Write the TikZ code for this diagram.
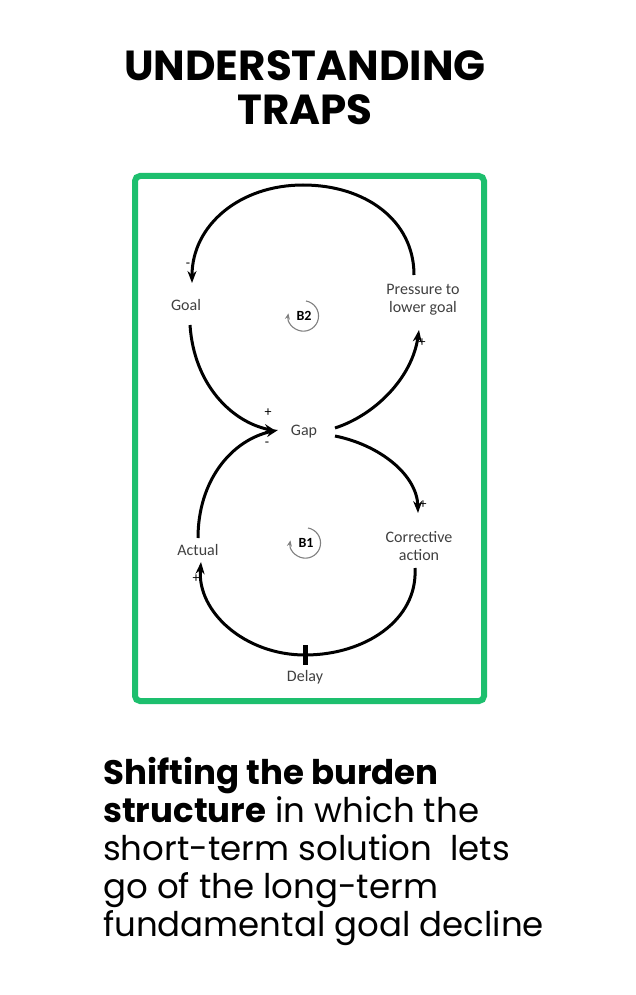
\documentclass[tikz,border=0pt]{standalone}
\usepackage{fontspec}
\setmainfont{Poppins}
\newfontfamily\diag{Carlito}
\usetikzlibrary{arrows.meta}
\definecolor{grn}{HTML}{1DBF6E}
\definecolor{txt}{HTML}{404040}
\begin{document}
\begin{tikzpicture}[x=1pt,y=-1pt,
  link/.style={line width=3pt,-{Stealth[length=12pt,width=9pt]}},
  lbl/.style={font=\diag\fontsize{16}{18}\selectfont,text=txt,align=center},
  sgn/.style={font=\diag\fontsize{14}{14}\selectfont,inner sep=0pt},
  loopc/.style={gray,line width=1.1pt,-{Stealth[length=6pt,width=5pt]}}]
\useasboundingbox (0,0) rectangle (636,995);
\fill[white] (0,0) rectangle (636,995);
\node[font=\fontsize{42}{42}\selectfont\bfseries,align=center] (title) at (305,88) {UNDERSTANDING\\[2pt]TRAPS};
\draw[grn,line width=6pt,rounded corners=5pt] (135,176) rectangle (484,701);
% labels
\node[lbl] (goal) at (186,305) {Goal};
\node[lbl] (press) at (423,300) {Pressure to\\lower goal};
\node[lbl] (gap) at (304,432) {Gap};
\node[lbl] (corr) at (419,546) {Corrective\\action};
\node[lbl] (act) at (198,550) {Actual};
\node[lbl] (delay) at (305,677) {Delay};
\node[font=\diag\bfseries\fontsize{14}{14}\selectfont] (b2) at (304,316) {B2};
\node[font=\diag\bfseries\fontsize{14}{14}\selectfont] (b1) at (306,543) {B1};
\draw[loopc] (b2.center) ++(2,-15) arc[start angle=-80,end angle=190,radius=15.2];
\draw[loopc] (b1.center) ++(2,-15) arc[start angle=-80,end angle=190,radius=15.2];
% coordinates
\coordinate (p1) at (414,275); \coordinate (top) at (303,185); \coordinate (g1) at (192,283);
\coordinate (g2) at (190,325); \coordinate (gp1) at (276,431);
\coordinate (gp2) at (335,428); \coordinate (p2) at (419,330);
\coordinate (gp3) at (335,436); \coordinate (c1) at (418,513);
\coordinate (c2) at (415,568); \coordinate (d) at (305,655); \coordinate (a1) at (201,562);
\coordinate (a2) at (198,538); \coordinate (gp4) at (278,430);
\draw[link] (p1) .. controls (414,220) and (365,185) .. (top) .. controls (240,185) and (192,225) .. (g1);
\draw[link] (g2) .. controls (194,385) and (232,422) .. (gp1);
\draw[link] (gp2) .. controls (375,415) and (412,378) .. (p2);
\draw[link] (gp3) .. controls (380,445) and (417,475) .. (c1);
\draw[line width=3pt] (c2) .. controls (418,620) and (365,655) .. (d);
\draw[link] (d) .. controls (245,655) and (197,612) .. (a1);
\draw[link] (a2) .. controls (198,480) and (232,440) .. (gp4);
\draw[line width=5pt] (d) ++(0,-10) -- ++(0,20);
% signs
\node[sgn] at (188,265) {-};
\node[sgn] at (422,343) {+};
\node[sgn] at (268,413) {+};
\node[sgn] at (267,444) {-};
\node[sgn] at (423,505) {+};
\node[sgn] at (196,579) {+};
% bottom text
\node[anchor=north west,align=left,font=\fontsize{34}{38}\selectfont,inner sep=0pt] (body) at (103,757)
{\textbf{Shifting the burden}\\\textbf{structure} in which the\\short-term solution\ \ lets\\go of the long-term\\fundamental goal decline};
\end{tikzpicture}
\end{document}
